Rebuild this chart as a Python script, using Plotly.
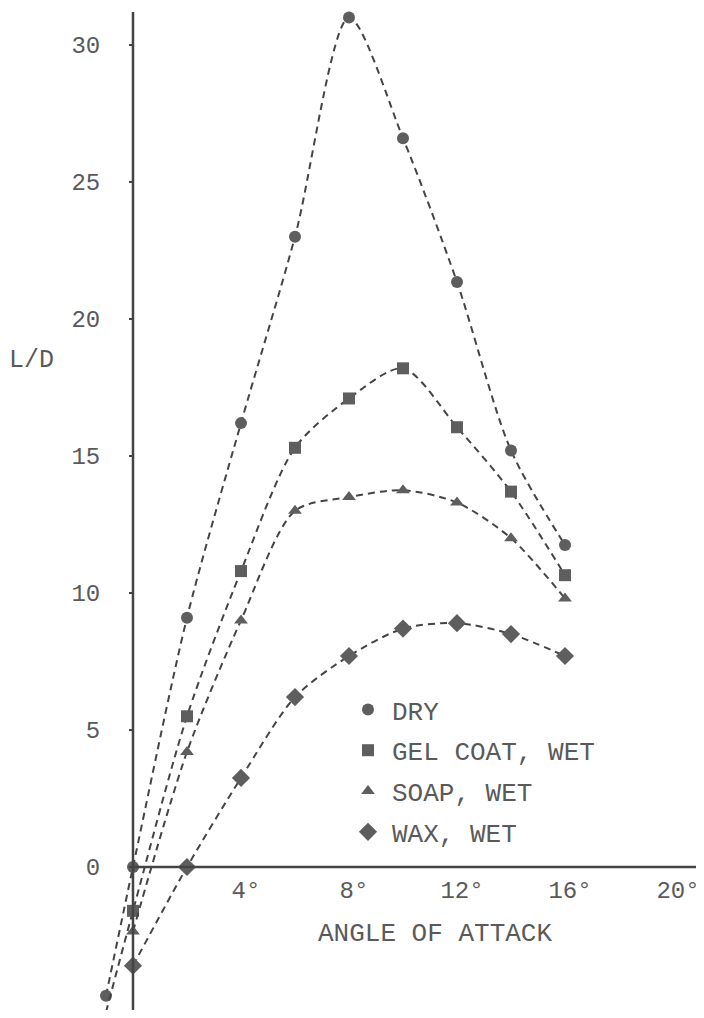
import plotly.graph_objects as go

# ---- data ----
angle_dry = [-1, 0, 2, 4, 6, 8, 10, 12, 14, 16]
ld_dry = [-4.7, 0.0, 9.1, 16.2, 23.0, 31.0, 26.6, 21.35, 15.2, 11.75]

angle_gel = [-1, 0, 2, 4, 6, 8, 10, 12, 14, 16]
ld_gel = [-5.3, -1.6, 5.5, 10.8, 15.3, 17.1, 18.2, 16.05, 13.7, 10.65]

angle_soap = [0, 2, 4, 6, 8, 10, 12, 14, 16]
ld_soap = [-2.35, 4.2, 9.0, 13.0, 13.5, 13.75, 13.3, 12.0, 9.8]

angle_wax = [0, 2, 4, 6, 8, 10, 12, 14, 16]
ld_wax = [-3.6, 0.0, 3.25, 6.2, 7.7, 8.7, 8.9, 8.5, 7.7]

series_names = ["DRY", "GEL COAT, WET", "SOAP, WET", "WAX, WET"]
series_symbols = ["circle", "square", "triangle-up", "diamond"]
series_sizes = [12, 12, 12, 14]

x_tick_vals = [4, 8, 12, 16, 20]
x_tick_text = ["4°", "8°", "12°", "16°", "20°"]
y_tick_vals = [0, 5, 10, 15, 20, 25, 30]
y_tick_text = ["0", "5", "10", "15", "20", "25", "30"]

# ---- styling ----
FONT = "Liberation Mono, Courier New, monospace"
INK = "#444444"
TXT = "#5a5a5a"
MK = "#5e5e5e"

# page body has an 8px margin: keep the figure within the window without scrollbars
W, H = 696, 1002
ML, MR, MT, MB = 87, 0, 0, 0
XMIN, XMAX = -1.407, 21.148
YMAX = (867 - 8) / 27.4
YMIN = -(8 + H - 867) / 27.4
PW, PH = W - ML - MR, H - MT - MB


def paper_x(screen_px):
    return (screen_px - 8 - ML) / PW


def paper_y(screen_py):
    return 1 - (screen_py - 8 - MT) / PH


fig = go.Figure()
xs = [angle_dry, angle_gel, angle_soap, angle_wax]
ys = [ld_dry, ld_gel, ld_soap, ld_wax]
for i in range(4):
    fig.add_trace(go.Scatter(
        x=xs[i], y=ys[i], mode="lines+markers", showlegend=False,
        line=dict(color=INK, width=2, dash="7px,5px", shape="spline", smoothing=0.8),
        marker=dict(symbol=series_symbols[i], size=series_sizes[i], color=MK),
        cliponaxis=False,
    ))
# legend-only marker entries
for i in range(4):
    fig.add_trace(go.Scatter(
        x=[None], y=[None], mode="markers", name=series_names[i],
        legendgroup=series_names[i],
        marker=dict(symbol=series_symbols[i], size=series_sizes[i], color=MK),
    ))

# axis lines drawn as shapes (cross at origin)
fig.add_shape(type="line", xref="x", yref="y", x0=0, x1=0, y0=YMIN, y1=31.2,
              line=dict(color=INK, width=2.5))
fig.add_shape(type="line", xref="x", yref="y", x0=0, x1=XMAX, y0=0, y1=0,
              line=dict(color=INK, width=2.5))

fig.add_annotation(x=11.2, y=-2.45, xref="x", yref="y", text="ANGLE OF ATTACK",
                   showarrow=False, font=dict(family=FONT, size=26, color=TXT))
fig.add_annotation(x=paper_x(31), y=18.5, xref="paper", yref="y", text="L/D",
                   xanchor="center", yanchor="middle",
                   showarrow=False, font=dict(family=FONT, size=25, color=TXT))

fig.update_layout(
    width=W, height=H,
    margin=dict(l=ML, r=MR, t=MT, b=MB, pad=0, autoexpand=False),
    paper_bgcolor="white", plot_bgcolor="white",
    font=dict(family=FONT, color=TXT),
    xaxis=dict(range=[XMIN, XMAX], showgrid=False, zeroline=False, showline=False,
               anchor="free", position=(0 - YMIN) / (YMAX - YMIN), automargin=False,
               tickvals=x_tick_vals, ticktext=x_tick_text, ticks="",
               tickfont=dict(family=FONT, size=24, color=TXT),
               ticklabelstandoff=6, ticklabelshift=5, ticklabeloverflow="allow"),
    yaxis=dict(range=[YMIN, YMAX], showgrid=False, zeroline=False, showline=False,
               anchor="free", position=(0 - XMIN) / (XMAX - XMIN), automargin=False,
               tickvals=y_tick_vals, ticktext=y_tick_text, ticks="outside",
               ticklen=4, tickwidth=2, tickcolor=INK,
               tickfont=dict(family=FONT, size=24, color=TXT),
               ticklabelstandoff=24, ticklabeloverflow="allow"),
    legend=dict(x=paper_x(344), y=paper_y(686),
                xanchor="left", yanchor="top",
                font=dict(family=FONT, size=26, color=TXT),
                bgcolor="rgba(0,0,0,0)", tracegroupgap=4, itemwidth=38),
)

fig.write_html("out.html")
